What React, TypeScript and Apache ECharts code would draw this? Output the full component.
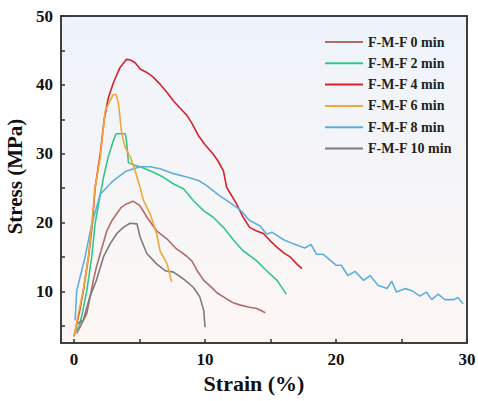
import React, { useEffect, useRef } from "react";
import * as echarts from "echarts";

const seriesNames = ["F-M-F 0 min", "F-M-F 2 min", "F-M-F 4 min", "F-M-F 6 min", "F-M-F 8 min", "F-M-F 10 min"];
const seriesColors = ["#b06b6b", "#2fc88a", "#d7222a", "#eda838", "#5eaee0", "#7c7c7c"];

const xLabelValues = [0, 10, 20, 30];
const xTickValues = [0, 5, 10, 15, 20, 25, 30];
const yLabelValues = [10, 20, 30, 40, 50];
const yTickValues = [5, 10, 15, 20, 25, 30, 35, 40, 45, 50];

const curve0 = [[0.2,3.9],[0.5,5],[0.97,6.8],[1.2,9],[1.47,11.6],[1.7,13.5],[2.0,15.5],[2.5,18.8],[2.9,20.3],[3.26,21.3],[3.6,22.2],[4.0,22.7],[4.5,23.1],[5.0,22.5],[5.3,21.6],[5.55,20.8],[6.3,18.8],[7.1,17.6],[7.8,16.2],[8.1,15.8],[8.6,15.1],[9.0,14.4],[9.4,13.0],[9.9,11.6],[10.6,10.4],[10.9,9.8],[11.65,8.9],[12.2,8.3],[12.7,8.0],[13.4,7.7],[13.95,7.5],[14.6,6.9]];
const curve2 = [[0.2,4.2],[0.46,5.4],[0.7,7.5],[0.97,10.1],[1.35,15],[1.6,19.8],[2.0,24.1],[2.24,26.5],[2.6,29.5],[3.0,31.9],[3.2,32.9],[3.9,32.9],[4.0,31.9],[4.15,28.7],[4.66,28.3],[5.2,28.0],[6.05,27.3],[6.8,26.6],[7.6,25.6],[8.35,24.9],[9.1,23.2],[9.9,21.7],[10.6,20.8],[11.4,19.3],[12.2,17.4],[12.9,15.9],[13.9,14.5],[14.7,13.0],[15.5,11.6],[16.2,9.6]];
const curve4 = [[0,3.5],[0.4,7],[0.7,10],[1.1,15],[1.4,20],[1.6,25],[2.0,30],[2.3,35],[2.6,38],[3.0,40.3],[3.5,42.5],[4.0,43.7],[4.3,43.6],[4.66,43.2],[5.04,42.3],[5.55,41.8],[6.0,41.2],[6.56,40.1],[7.1,38.9],[7.58,37.7],[8.1,36.6],[8.6,35.6],[9.0,34.4],[9.5,32.6],[10.0,31.3],[10.6,30.0],[11.0,28.9],[11.4,27.5],[11.65,25.1],[12.0,24.0],[12.4,22.7],[12.9,20.8],[13.4,19.3],[13.9,18.8],[14.45,18.4],[15.0,17.3],[15.5,16.4],[16.0,15.6],[16.5,15.0],[17.0,14.0],[17.4,13.3]];
const curve6 = [[0,3.4],[0.33,6.8],[0.7,10.1],[1.1,15],[1.35,19.8],[1.6,25],[2.0,29.5],[2.37,36.2],[2.75,37.7],[3.0,38.6],[3.2,38.6],[3.4,37.2],[3.5,35.3],[3.64,32.9],[3.9,30.9],[4.3,29.5],[4.66,27.5],[5.04,25.1],[5.3,23.2],[5.8,21.3],[6.3,18.4],[6.56,15.9],[7.1,14.0],[7.45,11.4]];
const curve8 = [[0.08,5.8],[0.2,10.1],[0.84,15],[1.35,19.8],[2.0,24.1],[3.0,26.1],[4.0,27.5],[5.04,28.1],[5.8,28.1],[6.56,27.8],[7.6,27.1],[8.6,26.6],[9.5,26.1],[10.1,25.4],[11.1,23.9],[11.9,22.9],[12.7,21.8],[13.4,20.3],[14.2,19.5],[14.7,18.3],[15.1,18.6],[16.0,17.5],[16.75,16.9],[17.6,16.3],[18.1,16.8],[18.5,15.4],[19.0,15.4],[20.0,13.8],[20.4,13.8],[20.9,12.3],[21.45,12.9],[22.1,11.6],[22.6,12.3],[23.2,10.9],[23.9,10.4],[24.25,11.5],[24.6,9.9],[25.3,10.4],[25.8,10.1],[26.4,9.3],[26.9,9.9],[27.3,8.8],[27.8,9.6],[28.3,8.8],[29.0,8.8],[29.3,9.1],[29.7,8.2]];
const curve10 = [[0.2,5.3],[0.7,5.8],[1.2,9.2],[1.7,11.6],[2.24,15.0],[2.75,16.9],[3.26,18.4],[3.76,19.3],[4.27,19.9],[4.8,19.8],[5.04,17.9],[5.55,15.5],[6.3,14.0],[6.95,13.0],[7.6,12.8],[8.35,11.8],[9.1,10.6],[9.6,9.2],[9.9,7.2],[10.0,4.8]];

const curves = [curve0, curve2, curve4, curve6, curve8, curve10];

const FONT = "'Liberation Serif', 'Times New Roman', serif";
const AXIS_COLOR = "#333";

export default function App() {
  const ref = useRef<HTMLDivElement>(null);
  useEffect(() => {
    if (!ref.current) return;
    const chart = echarts.init(ref.current, null, { renderer: "svg" });
    const frameAxis = {
      show: true,
      axisLine: { show: true, onZero: false, lineStyle: { color: AXIS_COLOR, width: 1.5 } },
      axisTick: { show: false },
      axisLabel: { show: false },
      splitLine: { show: false },
    };
    chart.setOption({
      animation: false,
      backgroundColor: "#ffffff",
      grid: {
        left: 61,
        right: 11,
        top: 16,
        bottom: 58,
        containLabel: false,
        outerBoundsMode: "none",
        show: true,
        borderColor: AXIS_COLOR,
        borderWidth: 1.5,
        backgroundColor: new echarts.graphic.LinearGradient(0, 0, 0, 1, [
          { offset: 0, color: "#eef3fb" },
          { offset: 1, color: "#fdf7f4" },
        ]),
      },
      legend: {
        orient: "vertical",
        left: 325,
        top: 34,
        padding: 0,
        icon: "rect",
        itemWidth: 38,
        itemHeight: 2,
        itemGap: 5.3,
        data: seriesNames,
        textStyle: { fontFamily: FONT, fontWeight: "bold", fontSize: 14, color: "#222", lineHeight: 16 },
      },
      xAxis: [
        {
          type: "value",
          min: -1,
          max: 30,
          name: "Strain (%)",
          nameLocation: "middle",
          nameGap: 27,
          nameTextStyle: { fontFamily: FONT, fontWeight: "bold", fontSize: 22, color: "#111", padding: [0, 20, 0, 0] },
          axisLine: { show: true, onZero: false, lineStyle: { color: AXIS_COLOR, width: 1.5 } },
          axisTick: { show: true, inside: true, length: 4, customValues: xTickValues, lineStyle: { color: AXIS_COLOR, width: 1.5 } },
          axisLabel: { customValues: xLabelValues, margin: 8, fontFamily: FONT, fontWeight: "bold", fontSize: 17, color: "#111" },
          splitLine: { show: false },
        },
        { type: "value", min: -1, max: 30, position: "top", ...frameAxis },
      ],
      yAxis: [
        {
          type: "value",
          min: 2.5,
          max: 50,
          name: "Stress (MPa)",
          nameLocation: "middle",
          nameGap: 30,
          nameTextStyle: { fontFamily: FONT, fontWeight: "bold", fontSize: 21, color: "#111", padding: [0, 0, 0, 6] },
          axisLine: { show: true, onZero: false, lineStyle: { color: AXIS_COLOR, width: 1.5 } },
          axisTick: { show: true, inside: true, length: 4, customValues: yTickValues, lineStyle: { color: AXIS_COLOR, width: 1.5 } },
          axisLabel: { customValues: yLabelValues, margin: 8, fontFamily: FONT, fontWeight: "bold", fontSize: 17, color: "#111" },
          splitLine: { show: false },
        },
        { type: "value", min: 2.5, max: 50, position: "right", ...frameAxis },
      ],
      series: curves.map((c, i) => ({
        name: seriesNames[i],
        type: "line",
        data: c,
        symbol: "none",
        color: seriesColors[i],
        lineStyle: { width: 1.6, color: seriesColors[i] },
        z: i === 3 ? 5 : 3,
      })),
    });
    return () => chart.dispose();
  }, []);
  return <div ref={ref} style={{ position: "absolute", left: 0, top: 0, width: 478, height: 401 }} />;
}
